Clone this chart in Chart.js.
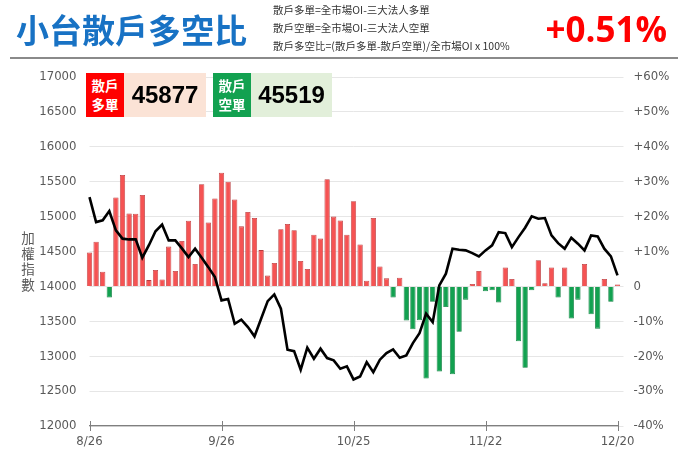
<!DOCTYPE html>
<html>
<head>
<meta charset="utf-8">
<script src="https://cdn.jsdelivr.net/npm/chart.js@4"></script>
<style>
  html,body{margin:0;padding:0;background:#fff;}
  #wrap{position:relative;width:695px;height:468px;overflow:hidden;background:#fff;font-family:"Noto Sans CJK TC","Noto Sans",sans-serif;}
  canvas{position:absolute;left:0;top:0;}
  .abs{position:absolute;white-space:nowrap;}
  #title{left:16px;top:5px;font-size:33px;font-weight:bold;color:#1872C4;line-height:48px;letter-spacing:0px;}
  .def{left:273px;font-size:10.5px;color:#333;line-height:14px;}
  #pct{right:28px;top:6px;font-family:"Open Sans","Liberation Sans",sans-serif;font-size:35px;font-weight:bold;color:#FF0000;line-height:46px;}
  #rule{left:10px;top:57px;width:668px;height:2px;background:#8a8a8a;}
  .tag{top:73px;width:38px;height:44px;color:#fff;font-weight:bold;font-size:13.5px;line-height:19px;text-align:center;display:flex;flex-direction:column;justify-content:center;}
  .val{top:73px;height:44px;font-family:"Liberation Sans","Open Sans",sans-serif;font-weight:bold;font-size:24px;color:#000;line-height:44px;text-align:center;}
  #ytitle{left:20px;top:230px;width:16px;font-size:13.5px;color:#595959;line-height:15.5px;text-align:center;white-space:normal;}
</style>
</head>
<body>
<div id="wrap">
  <canvas id="c" width="695" height="468"></canvas>
  <div id="title" class="abs">小台散戶多空比</div>
  <div class="abs def" style="top:3px">散戶多單=全市場OI-三大法人多單</div>
  <div class="abs def" style="top:21px">散戶空單=全市場OI-三大法人空單</div>
  <div class="abs def" style="top:39px">散戶多空比=(散戶多單-散戶空單)/全市場OI x 100%</div>
  <div id="pct" class="abs"></div>
  <div id="rule" class="abs"></div>
  <div class="abs tag" style="left:86px;background:#FF0000"><span>散戶</span><span>多單</span></div>
  <div id="longVal" class="abs val" style="left:124px;width:82px;background:#FBE3D6"></div>
  <div class="abs tag" style="left:213px;background:#12A150"><span>散戶</span><span>空單</span></div>
  <div id="shortVal" class="abs val" style="left:251px;width:81px;background:#E2EFDA"></div>
  <div id="ytitle" class="abs">加<br>權<br>指<br>數</div>
</div>
<script>
// ---- data ----
const tickLabels = ['8/26', '9/26', '10/25', '11/22', '12/20'];
const tickEvery = 20;
const retailLong = 45877;
const retailShort = 45519;
const latestRatio = '+0.51%';
// retail long/short ratio (%) per trading day
const ratio = [
  9.7, 12.8, 4.2, -3.2, 25.5, 31.9, 20.9, 20.8, 26.2, 1.8,
  4.7, 2.0, 11.4, 4.4, 13.0, 18.8, 6.4, 29.3, 18.3, 25.2,
  32.6, 30.0, 24.9, 17.2, 21.3, 19.6, 10.4, 3.1, 6.7, 16.4,
  17.9, 16.1, 7.3, 5.0, 14.8, 13.7, 30.7, 20.0, 18.9, 14.8,
  24.4, 12.0, 1.6, 19.6, 5.7, 2.3, -3.2, 2.5, -9.8, -12.3,
  -9.7, -26.4, -4.4, -24.4, -5.9, -25.2, -13.0, -3.8, 0.7, 4.4,
  -1.4, -1.1, -4.6, 5.4, 2.1, -15.7, -23.3, -1.1, 7.5, 0.9,
  5.4, -3.2, 5.4, -9.2, -3.8, 6.4, -8.0, -12.1, 2.1, -4.4,
  0.51
];
// weighted index (加權指數)
const taiex = [
  15280, 14921, 14946, 15079, 14803, 14684, 14673, 14673, 14411, 14590,
  14790, 14885, 14659, 14659, 14545, 14420, 14540, 14411, 14276, 14133,
  13800, 13820, 13465, 13523, 13417, 13284, 13537, 13789, 13885, 13680,
  13093, 13073, 12806, 13122, 12964, 13108, 12973, 12940, 12821, 12854,
  12667, 12710, 12915, 12772, 12950, 13044, 13097, 12978, 13011, 13187,
  13331, 13609, 13488, 14014, 14182, 14540, 14526, 14516, 14477, 14430,
  14516, 14588, 14778, 14764, 14563, 14706, 14841, 15003, 14970, 14979,
  14731, 14620, 14540, 14698, 14612, 14516, 14731, 14716, 14540, 14430,
  14158
];

document.getElementById('pct').textContent = latestRatio;
document.getElementById('longVal').textContent = retailLong;
document.getElementById('shortVal').textContent = retailShort;

const days = ratio.map((_, i) => i);
const axisFont = {family: '"Liberation Sans Narrow","DejaVu Sans Condensed","Liberation Sans",sans-serif', size: 13};
const axisColor = '#595959';

const xTicks = {
  id: 'xTicks',
  afterDraw(chart) {
    const xs = chart.scales.x, ca = chart.chartArea, c = chart.ctx;
    c.save();
    c.strokeStyle = '#7f7f7f';
    c.lineWidth = 1;
    for (let i = 0; i < days.length; i += tickEvery) {
      const px = Math.round(xs.getPixelForValue(i)) + 0.5;
      c.beginPath();
      c.moveTo(px, ca.bottom - 5);
      c.lineTo(px, ca.bottom + 5);
      c.stroke();
    }
    c.restore();
  }
};

new Chart(document.getElementById('c'), {
  type: 'bar',
  data: {
    labels: days,
    datasets: [
      {
        type: 'line',
        data: taiex,
        yAxisID: 'y',
        borderColor: '#000',
        borderWidth: 2.6,
        pointRadius: 0,
        tension: 0,
        order: 0,
        clip: false
      },
      {
        type: 'bar',
        data: ratio,
        yAxisID: 'y2',
        backgroundColor: ctx => (ctx.raw >= 0 ? '#F55353' : '#12A150'),
        borderColor: ctx => (ctx.raw >= 0 ? '#B8393B' : '#0E7E3E'),
        borderWidth: 0.8,
        categoryPercentage: 1,
        barPercentage: 0.8,
        order: 1,
        clip: false
      }
    ]
  },
  options: {
    responsive: false,
    animation: false,
    events: [],
    layout: {padding: {top: 77, left: 0, right: 0, bottom: 0}},
    plugins: {legend: {display: false}, tooltip: {enabled: false}},
    scales: {
      x: {
        type: 'category',
        offset: false,
        grid: {display: false, drawTicks: false},
        border: {display: true, color: '#7f7f7f', width: 1.2},
        ticks: {
          autoSkip: false,
          maxRotation: 0,
          padding: 8,
          color: axisColor,
          font: axisFont,
          callback: (v, i) => (i % tickEvery === 0 ? tickLabels[i / tickEvery] : '')
        },
        afterFit: s => { s.height = 42; }
      },
      y: {
        position: 'left',
        min: 12000,
        max: 17000,
        grid: {display: false, drawTicks: false},
        border: {display: false},
        ticks: {stepSize: 500, padding: 13, color: axisColor, font: axisFont, callback: v => String(v)},
        afterFit: s => { s.width = 89.5; }
      },
      y2: {
        position: 'right',
        min: -40,
        max: 60,
        grid: {color: '#e6e6e6', lineWidth: 1, drawTicks: true, tickLength: 6, tickColor: '#e6e6e6'},
        border: {display: false},
        ticks: {
          stepSize: 10,
          padding: 10,
          color: axisColor,
          font: axisFont,
          callback: v => (v > 0 ? '+' + v + '%' : v < 0 ? v + '%' : '0')
        },
        afterFit: s => { s.width = 77.5; }
      }
    }
  },
  plugins: [xTicks]
});
</script>
</body>
</html>
